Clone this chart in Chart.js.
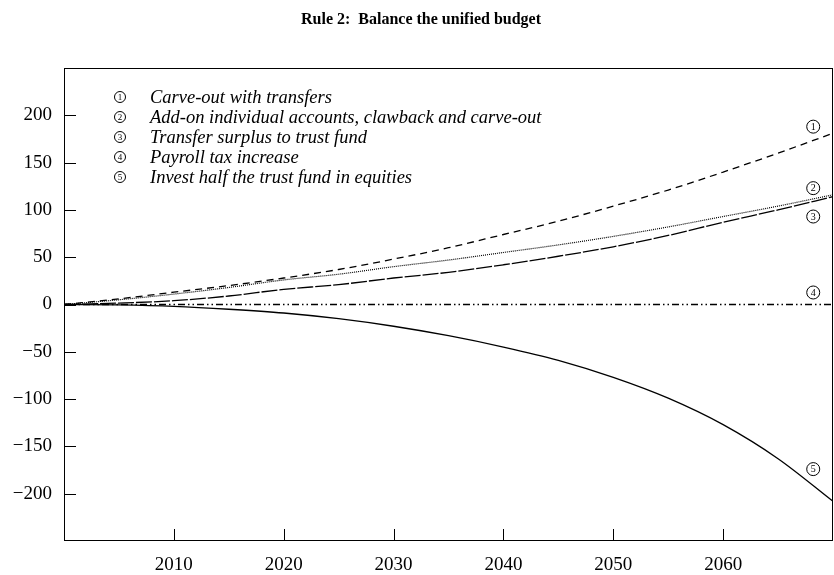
<!DOCTYPE html>
<html>
<head>
<meta charset="utf-8">
<script src="https://cdn.jsdelivr.net/npm/chart.js@4.4.0/dist/chart.umd.min.js"></script>
<style>
  html, body { margin: 0; padding: 0; background: #fff; }
</style>
</head>
<body>
<canvas id="budget-chart" width="834" height="575"></canvas>
<script>
// Values (billions, by year)
const years = [2000, 2005, 2010, 2015, 2020, 2025, 2030, 2035, 2040, 2045, 2050, 2055, 2060, 2065, 2070];
const carveOut = [0, 6, 13, 20, 28, 37, 48, 60, 74, 88, 104, 121, 140, 160, 181];
const addOn = [0, 5, 11, 18, 26, 32, 40, 47, 55, 63, 72, 82, 93, 104, 116];
const transferSurplus = [0, 1.5, 4, 9, 16, 21, 28, 34, 42, 51, 61, 73, 87, 100, 114];
const payrollTax = [0, 0, 0, 0, 0, 0, 0, 0, 0, 0, 0, 0, 0, 0, 0];
const investHalf = [0, -0.5, -2, -5, -9, -15, -23, -33, -45, -59, -77, -99, -127, -163, -208];

const seriesNames = [
    'Carve-out with transfers',
    'Add-on individual accounts, clawback and carve-out',
    'Transfer surplus to trust fund',
    'Payroll tax increase',
    'Invest half the trust fund in equities'
];
const xTicks = [2010, 2020, 2030, 2040, 2050, 2060];
const yTicks = [-200, -150, -100, -50, 0, 50, 100, 150, 200];

// where the circled numbers sit next to the line ends (year, value)
const markerYear = 2068.2;
const markerValues = [188, 123, 93, 12.7, -174];

const serif = '"Liberation Serif", "DejaVu Serif", serif';

function points(values) {
    return years.map((yr, i) => ({ x: yr, y: values[i] }));
}

function circled(ctx, cx, cy, r, digit) {
    ctx.beginPath();
    ctx.arc(cx, cy, r, 0, Math.PI * 2);
    ctx.lineWidth = 1;
    ctx.stroke();
    ctx.font = Math.round(r * 1.6) + 'px ' + serif;
    ctx.textAlign = 'center';
    ctx.textBaseline = 'middle';
    ctx.fillText(String(digit), cx, cy + 0.5);
}

const framePlugin = {
    id: 'frame',
    afterDraw(chart) {
        const { ctx, chartArea: a, scales } = chart;
        ctx.save();
        ctx.strokeStyle = '#000';
        ctx.fillStyle = '#000';
        ctx.lineWidth = 1;
        ctx.setLineDash([]);
        ctx.strokeRect(a.left + 0.5, a.top + 0.5, a.right - a.left - 1, a.bottom - a.top - 1);

        // inward tick marks
        ctx.beginPath();
        yTicks.forEach(v => {
            const py = Math.round(scales.y.getPixelForValue(v)) + 0.5;
            ctx.moveTo(a.left, py);
            ctx.lineTo(a.left + 12, py);
        });
        xTicks.forEach(v => {
            const px = Math.round(scales.x.getPixelForValue(v)) + 0.5;
            ctx.moveTo(px, a.bottom);
            ctx.lineTo(px, a.bottom - 12);
        });
        ctx.stroke();

        // title
        ctx.font = 'bold 16px ' + serif;
        ctx.textAlign = 'center';
        ctx.textBaseline = 'middle';
        ctx.fillText('Rule 2:  Balance the unified budget', 421, 20);

        // legend
        seriesNames.forEach((name, i) => {
            const ry = 97 + i * 20;
            circled(ctx, 120, ry, 5.5, i + 1);
            ctx.font = 'italic 18.5px ' + serif;
            ctx.textAlign = 'left';
            ctx.textBaseline = 'middle';
            ctx.fillText(name, 150, ry + 1);
        });

        // circled numbers by the line ends
        markerValues.forEach((v, i) => {
            const px = scales.x.getPixelForValue(markerYear);
            const py = scales.y.getPixelForValue(v);
            circled(ctx, px, py, 6.5, i + 1);
        });
        ctx.restore();
    }
};

const lineStyle = {
    borderColor: '#000',
    borderWidth: 1.3,
    pointRadius: 0,
    fill: false,
    cubicInterpolationMode: 'monotone'
};

new Chart(document.getElementById('budget-chart').getContext('2d'), {
    type: 'line',
    data: {
        datasets: [
            { ...lineStyle, label: seriesNames[0], data: points(carveOut), borderDash: [7, 5] },
            { ...lineStyle, label: seriesNames[1], data: points(addOn), borderDash: [1, 1], borderWidth: 1.2 },
            { ...lineStyle, label: seriesNames[2], data: points(transferSurplus), borderDash: [16, 2] },
            { ...lineStyle, label: seriesNames[3], data: points(payrollTax), borderDash: [7, 3, 1.5, 3, 1.5, 3] },
            { ...lineStyle, label: seriesNames[4], data: points(investHalf) }
        ]
    },
    options: {
        responsive: false,
        animation: false,
        layout: { padding: { top: 68, right: 1, left: 0, bottom: 0 } },
        plugins: {
            legend: { display: false },
            title: { display: false },
            tooltip: { enabled: false }
        },
        scales: {
            x: {
                type: 'linear',
                min: 2000,
                max: 2070,
                afterBuildTicks: s => { s.ticks = xTicks.map(v => ({ value: v })); },
                afterFit: s => { s.height = 34; },
                grid: { display: false, drawTicks: false },
                border: { display: false },
                ticks: {
                    color: '#000',
                    font: { family: serif, size: 19 },
                    padding: 13,
                    maxRotation: 0,
                    callback: v => String(v)
                }
            },
            y: {
                type: 'linear',
                min: -250,
                max: 250,
                afterBuildTicks: s => { s.ticks = yTicks.map(v => ({ value: v })); },
                afterFit: s => { s.width = 64; },
                grid: { display: false, drawTicks: false },
                border: { display: false },
                ticks: {
                    color: '#000',
                    font: { family: serif, size: 19 },
                    padding: 12,
                    callback: v => (v < 0 ? '\u2212' + Math.abs(v) : String(v))
                }
            }
        }
    },
    plugins: [framePlugin]
});
</script>
</body>
</html>
